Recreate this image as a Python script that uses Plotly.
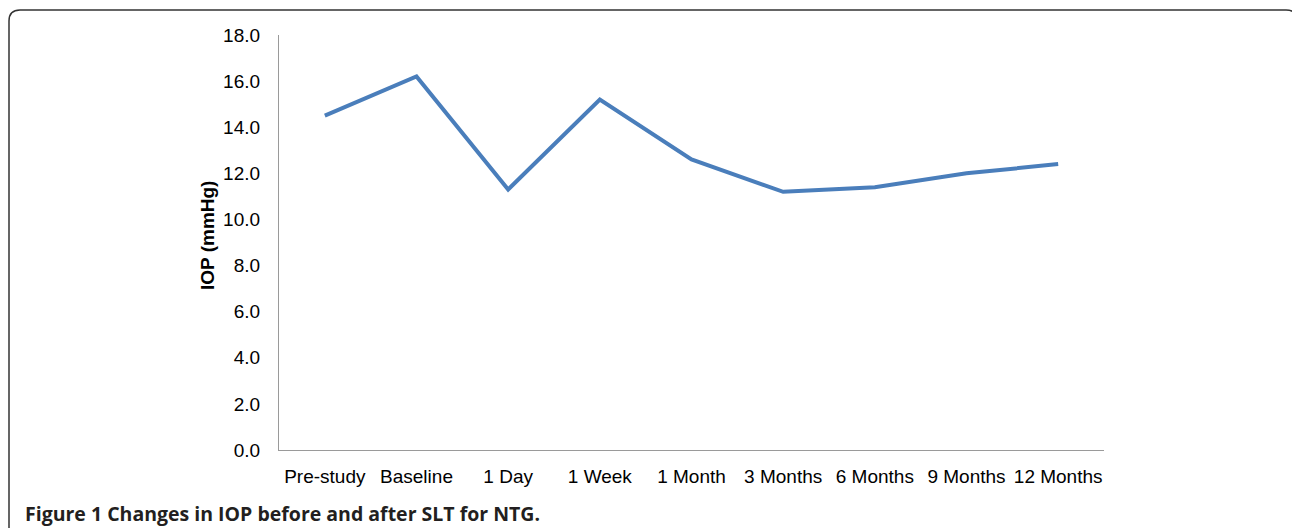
import plotly.graph_objects as go

categories = ["Pre-study", "Baseline", "1 Day", "1 Week", "1 Month",
              "3 Months", "6 Months", "9 Months", "12 Months"]
iop = [14.5, 16.2, 11.3, 15.2, 12.6, 11.2, 11.4, 12.0, 12.4]
y_ticks = [0, 2, 4, 6, 8, 10, 12, 14, 16, 18]
y_title = "IOP (mmHg)"
caption_bold = "Figure 1"
caption_rest = "Changes in IOP before and after SLT for NTG."

W, H = 1292, 528
L, R, T, B = 279, 1104, 35, 450
pw, ph = R - L, B - T


def px(x):
    return (x - L) / pw


def py(y):
    return (B - y) / ph


fig = go.Figure()
fig.add_trace(go.Scatter(
    x=categories, y=iop, mode="lines",
    line=dict(color="#4A7EBB", width=4),
    hoverinfo="x+y", showlegend=False,
))

tickfont = dict(family="Liberation Sans, Arial, sans-serif", size=19, color="#000000")

fig.update_layout(
    width=W, height=H,
    margin=dict(l=L, r=W - R, t=T, b=H - B),
    paper_bgcolor="white", plot_bgcolor="white",
    xaxis=dict(
        type="category", range=[-0.5, len(categories) - 0.5],
        showline=True, linecolor="#9A9A9A", linewidth=1.3,
        showgrid=False, zeroline=False,
        ticks="outside", ticklen=9, tickcolor="rgba(0,0,0,0)",
        tickfont=tickfont,
    ),
    yaxis=dict(
        range=[0, 18], tickvals=y_ticks,
        ticktext=[f"{v:.1f}" for v in y_ticks],
        showline=True, linecolor="#9A9A9A", linewidth=1.3,
        showgrid=False, zeroline=False,
        ticks="outside", ticklen=14, tickcolor="rgba(0,0,0,0)",
        tickfont=tickfont,
    ),
)

# y-axis title
fig.add_annotation(
    text=f"<b>{y_title}</b>", textangle=-90,
    x=px(208), y=py(236), xref="paper", yref="paper",
    xanchor="center", yanchor="middle", showarrow=False,
    font=dict(family="Liberation Sans, Arial, sans-serif", size=19, color="#000000"),
)

# caption
fig.add_annotation(
    text=f"<b>{caption_bold}</b> <b>{caption_rest}</b>",
    x=px(23), y=py(513), xref="paper", yref="paper",
    xanchor="left", yanchor="middle", showarrow=False,
    font=dict(family="Open Sans, sans-serif", size=19.5, color="#231F20"),
)

# rounded frame around the figure (right side runs off the page)
x0, x1 = px(9), px(1297)
yt, yb = py(10), py(545)
rx, ry = 11 / pw, 11 / ph
path = (f"M {x0},{yb} L {x0},{yt - ry} Q {x0},{yt} {x0 + rx},{yt} "
        f"L {x1 - rx},{yt} Q {x1},{yt} {x1},{yt - ry} L {x1},{yb}")
fig.add_shape(type="path", path=path, xref="paper", yref="paper",
              line=dict(color="#333333", width=1.5), layer="above")

fig.write_html(
    "out.html",
    config={"displayModeBar": False},
    post_script="document.body.style.margin='0';document.body.style.overflow='hidden';",
)
